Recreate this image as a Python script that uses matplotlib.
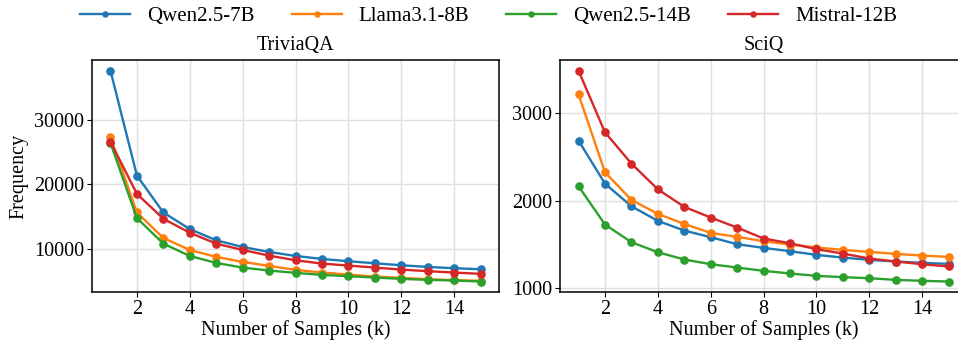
import numpy as np
import matplotlib
matplotlib.use("Agg")
import matplotlib.pyplot as plt

plt.rcParams['font.family'] = ['Liberation Serif', 'DejaVu Serif']
plt.rcParams['font.size'] = 14

# number of samples
k = np.arange(1, 16)

models = ["Qwen2.5-7B", "Llama3.1-8B", "Qwen2.5-14B", "Mistral-12B"]
colors = ["#1f77b4", "#ff7f0e", "#2ca02c", "#d62728"]

##### TriviaQA
trivia_qwen7 = [37600, 21360, 15650, 13080, 11340, 10310, 9540, 8920, 8460, 8100, 7790, 7480, 7220, 7020, 6860]
trivia_llama = [27270, 15650, 11700, 9850, 8770, 8000, 7380, 6760, 6350, 6040, 5730, 5530, 5320, 5170, 5070]
trivia_qwen14 = [26400, 14780, 10820, 8920, 7840, 7120, 6660, 6300, 5990, 5790, 5580, 5370, 5220, 5120, 4960]
trivia_mistral = [26600, 18530, 14680, 12520, 10820, 9850, 8970, 8250, 7740, 7430, 7120, 6810, 6560, 6350, 6150]

##### SciQ
sciq_qwen7 = [2688, 2196, 1937, 1770, 1659, 1583, 1503, 1461, 1423, 1381, 1350, 1324, 1305, 1290, 1278]
sciq_llama = [3217, 2326, 2010, 1850, 1735, 1632, 1587, 1537, 1499, 1465, 1438, 1415, 1392, 1373, 1358]
sciq_qwen14 = [2166, 1728, 1526, 1411, 1328, 1274, 1236, 1198, 1168, 1141, 1126, 1114, 1095, 1084, 1076]
sciq_mistral = [3488, 2783, 2425, 2131, 1930, 1808, 1693, 1568, 1514, 1446, 1396, 1339, 1305, 1274, 1248]

panels = [
    ("TriviaQA", [trivia_qwen7, trivia_llama, trivia_qwen14, trivia_mistral]),
    ("SciQ", [sciq_qwen7, sciq_llama, sciq_qwen14, sciq_mistral]),
]

fig = plt.figure(figsize=(9.58, 3.42), dpi=100)
ax1 = fig.add_axes([0.096, 0.146, 0.425, 0.678])
ax2 = fig.add_axes([0.5846, 0.146, 0.425, 0.678])

for ax, (title, series) in zip([ax1, ax2], panels):
    for name, vals, c in zip(models, series, colors):
        ax.plot(k, vals, color=c, marker='o', markersize=5.2, linewidth=1.7, label=name)
    ax.set_title(title, fontsize=14.5, pad=7)
    ax.set_xlabel("Number of Samples (k)", fontsize=14.5, labelpad=1)
    ax.set_xticks(np.arange(2, 16, 2))
    ax.grid(True, color='#e0e0e0', linewidth=1)
    ax.set_axisbelow(True)
    ax.tick_params(labelsize=14.5, pad=2)
    for s in ax.spines.values():
        s.set_color('black')
        s.set_linewidth(1.1)

ax1.set_ylabel("Frequency", fontsize=14.5)
ax1.set_yticks([10000, 20000, 30000])
ax2.set_yticks([1000, 2000, 3000])

handles, labels = ax1.get_legend_handles_labels()
fig.legend(handles, labels, loc='upper center', bbox_to_anchor=(0.51, 1.035), ncol=4,
           frameon=False, fontsize=15, handlelength=2.4, columnspacing=1.8, markerscale=0.7)

plt.savefig("out.png", dpi=100)
